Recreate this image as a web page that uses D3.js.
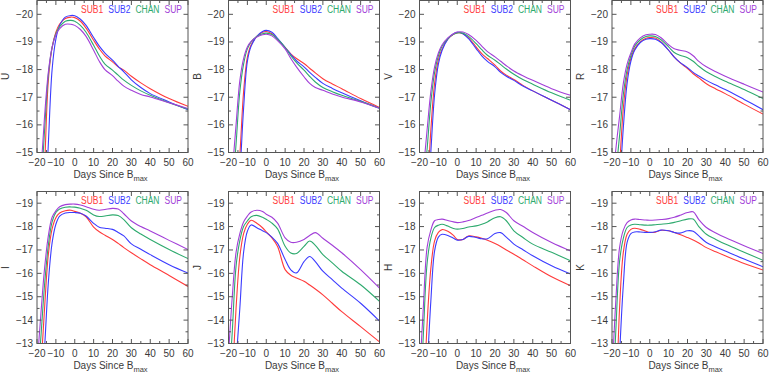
<!DOCTYPE html>
<head>
  <meta charset="utf-8">
  <title>Light curves</title>
  <script src="https://d3js.org/d3.v7.min.js"></script>
  <style>
    body { margin: 0; background: #fff; }
    text { font-family: "Liberation Sans", sans-serif; font-size: 10px; fill: #3a3a3a; }
  </style>
</head>

<body>
  <script type="text/javascript">
    var WIDTH = 769;
    var HEIGHT = 372;

    //===========data (days since B max, absolute magnitudes)
    var days = [-20,-18,-16,-14,-12,-10,-8,-5,-2,0,3,6,10,13,16,20,23,26,30,35,40,50,60];
    var models = ["SUB1", "SUB2", "CHAN", "SUP"];
    var colors = ["#ff3b3b", "#3b3bff", "#2eaa6e", "#a23fd8"];
    var xTickLabels = [-20,-10,0,10,20,30,40,50,60];

    var uSub1 = [-10,-12,-14.5,-17.6,-18.8,-19.35,-19.65,-19.85,-19.9,-19.88,-19.75,-19.5,-19.06,-18.75,-18.5,-18.28,-18.1,-17.98,-17.76,-17.52,-17.31,-16.95,-16.67];
    var uSub2 = [-9,-10.5,-12.5,-15.3,-18.0,-19.1,-19.6,-19.9,-19.96,-19.95,-19.82,-19.6,-19.16,-18.85,-18.6,-18.34,-18.12,-17.92,-17.63,-17.35,-17.13,-16.83,-16.55];
    var uChan = [-11,-13.5,-15.8,-17.8,-18.8,-19.3,-19.55,-19.75,-19.78,-19.75,-19.6,-19.35,-18.88,-18.5,-18.2,-17.98,-17.8,-17.62,-17.43,-17.23,-17.07,-16.8,-16.57];
    var uSup  = [-12,-14.2,-16.3,-17.9,-18.8,-19.25,-19.48,-19.64,-19.64,-19.6,-19.45,-19.2,-18.7,-18.3,-18.0,-17.78,-17.58,-17.4,-17.25,-17.1,-17.01,-16.8,-16.59];

    var bSub1 = [-10,-11.5,-13.2,-14.9,-17.2,-18.45,-18.9,-19.2,-19.35,-19.38,-19.3,-19.1,-18.8,-18.57,-18.4,-18.22,-18.05,-17.88,-17.67,-17.48,-17.31,-16.95,-16.63];
    var bSub2 = [-9.5,-11,-12.5,-14.2,-16.6,-18.3,-18.85,-19.2,-19.38,-19.42,-19.35,-19.13,-18.8,-18.55,-18.32,-18.1,-17.9,-17.72,-17.5,-17.32,-17.16,-16.87,-16.6];
    var bChan = [-11.5,-13.5,-15.3,-17.2,-18.2,-18.75,-19.0,-19.2,-19.3,-19.32,-19.27,-19.1,-18.8,-18.5,-18.25,-17.98,-17.75,-17.55,-17.35,-17.2,-17.07,-16.85,-16.6];
    var bSup  = [-12.5,-14.3,-16.0,-17.6,-18.4,-18.82,-19.02,-19.18,-19.26,-19.28,-19.22,-19.05,-18.75,-18.4,-18.1,-17.74,-17.5,-17.35,-17.25,-17.12,-17.01,-16.83,-16.6];

    var vSub1 = [-10,-11.5,-13.3,-15.8,-17.5,-18.35,-18.75,-19.1,-19.28,-19.33,-19.3,-19.15,-18.82,-18.58,-18.4,-18.16,-17.95,-17.8,-17.64,-17.42,-17.23,-16.89,-16.55];
    var vSub2 = [-9.5,-11,-12.6,-15.0,-17.1,-18.2,-18.7,-19.1,-19.3,-19.35,-19.3,-19.12,-18.76,-18.5,-18.3,-18.1,-17.9,-17.76,-17.61,-17.4,-17.23,-16.89,-16.55];
    var vChan = [-11.8,-13.7,-15.1,-16.8,-17.9,-18.5,-18.85,-19.12,-19.28,-19.33,-19.32,-19.2,-18.94,-18.72,-18.52,-18.34,-18.18,-18.02,-17.83,-17.63,-17.47,-17.16,-16.89];
    var vSup  = [-12.5,-14.3,-15.8,-17.2,-18.1,-18.6,-18.9,-19.15,-19.3,-19.36,-19.36,-19.27,-19.06,-18.85,-18.65,-18.46,-18.3,-18.14,-17.95,-17.77,-17.61,-17.31,-17.07];

    var rSub1 = [-11,-12.5,-14.5,-16.6,-17.8,-18.4,-18.75,-19.0,-19.13,-19.16,-19.14,-19.0,-18.7,-18.45,-18.25,-18.04,-17.85,-17.7,-17.49,-17.3,-17.13,-16.75,-16.39];
    var rSub2 = [-10,-11.8,-13.7,-15.9,-17.5,-18.3,-18.7,-18.98,-19.1,-19.12,-19.1,-18.98,-18.7,-18.45,-18.26,-18.07,-17.9,-17.77,-17.61,-17.44,-17.28,-16.92,-16.55];
    var rChan = [-12.5,-14.2,-15.6,-17.1,-18.0,-18.5,-18.85,-19.08,-19.2,-19.22,-19.2,-19.08,-18.82,-18.62,-18.52,-18.43,-18.3,-18.12,-17.92,-17.74,-17.58,-17.28,-16.95];
    var rSup  = [-13.5,-15.1,-16.3,-17.5,-18.2,-18.6,-18.92,-19.15,-19.26,-19.28,-19.27,-19.15,-18.9,-18.75,-18.7,-18.64,-18.5,-18.3,-18.1,-17.92,-17.76,-17.47,-17.19];

    var iSub1 = [-9,-11.8,-14.5,-16.8,-17.9,-18.38,-18.58,-18.68,-18.7,-18.65,-18.57,-18.42,-17.98,-17.78,-17.63,-17.45,-17.28,-17.1,-16.88,-16.62,-16.37,-15.91,-15.44];
    var iSub2 = [-8,-10.5,-12.8,-15.6,-17.3,-18.1,-18.45,-18.58,-18.6,-18.6,-18.57,-18.45,-18.14,-17.97,-17.93,-17.88,-17.75,-17.6,-17.26,-17.03,-16.8,-16.37,-16.01];
    var iChan = [-11,-13.2,-15.5,-17.2,-18.2,-18.6,-18.75,-18.83,-18.84,-18.83,-18.78,-18.7,-18.5,-18.43,-18.45,-18.5,-18.47,-18.3,-17.95,-17.68,-17.45,-17.02,-16.63];
    var iSup  = [-12,-14.2,-16.2,-17.6,-18.4,-18.67,-18.85,-18.94,-18.96,-18.96,-18.92,-18.85,-18.74,-18.7,-18.73,-18.78,-18.75,-18.55,-18.24,-18.0,-17.81,-17.41,-17.02];

    var jSub1 = [-9,-11.5,-14.5,-16.7,-17.7,-18.1,-18.27,-18.14,-17.95,-17.77,-17.52,-17.15,-16.16,-15.92,-15.8,-15.66,-15.5,-15.33,-15.08,-14.72,-14.36,-13.72,-13.07];
    var jSub2 = [-8,-10,-12.2,-14.5,-16.9,-17.8,-18.07,-17.95,-17.82,-17.74,-17.55,-17.28,-16.59,-16.15,-16.02,-16.5,-16.72,-16.5,-16.09,-15.73,-15.37,-14.72,-13.96];
    var jChan = [-11,-13.5,-16.3,-17.4,-18.0,-18.24,-18.42,-18.48,-18.4,-18.31,-18.15,-17.9,-17.16,-16.87,-16.85,-17.15,-17.38,-17.2,-16.8,-16.45,-16.09,-15.51,-14.8];
    var jSup  = [-12.5,-15.0,-16.9,-17.7,-18.2,-18.45,-18.62,-18.7,-18.65,-18.53,-18.4,-18.15,-17.52,-17.33,-17.33,-17.45,-17.62,-17.74,-17.5,-17.2,-16.88,-16.16,-15.37];

    var hSub1 = [-7,-10,-13.8,-16.2,-17.39,-17.75,-17.87,-17.8,-17.62,-17.45,-17.45,-17.6,-17.56,-17.5,-17.42,-17.28,-17.15,-17.0,-16.82,-16.57,-16.32,-15.85,-15.47];
    var hSub2 = [-6,-9,-11.8,-14.8,-16.96,-17.55,-17.67,-17.62,-17.5,-17.42,-17.45,-17.58,-17.53,-17.48,-17.48,-17.7,-17.74,-17.55,-17.25,-17.0,-16.75,-16.32,-15.97];
    var hChan = [-10,-13.3,-16.4,-17.5,-17.96,-18.06,-18.1,-18.02,-17.92,-17.89,-17.92,-17.98,-18.03,-18.1,-18.2,-18.38,-18.42,-18.25,-17.82,-17.52,-17.25,-16.9,-16.54];
    var hSup  = [-11.5,-14.5,-17.1,-17.85,-18.25,-18.3,-18.32,-18.26,-18.2,-18.17,-18.2,-18.26,-18.39,-18.48,-18.58,-18.7,-18.73,-18.6,-18.25,-18.0,-17.75,-17.32,-16.96];

    var kSub1 = [-7,-10,-14.5,-16.9,-17.67,-17.88,-17.93,-17.88,-17.8,-17.75,-17.76,-17.84,-17.82,-17.75,-17.66,-17.53,-17.43,-17.3,-17.1,-16.92,-16.75,-16.42,-16.14];
    var kSub2 = [-6,-9,-12.5,-15.5,-17.32,-17.7,-17.77,-17.77,-17.75,-17.75,-17.78,-17.85,-17.82,-17.75,-17.72,-17.82,-17.8,-17.6,-17.32,-17.13,-16.96,-16.61,-16.28];
    var kChan = [-10,-13.5,-16.5,-17.5,-17.96,-18.07,-18.1,-18.08,-18.06,-18.06,-18.08,-18.1,-18.13,-18.18,-18.24,-18.32,-18.32,-18.0,-17.67,-17.45,-17.25,-16.9,-16.56];
    var kSup  = [-11.5,-14.8,-17.1,-17.85,-18.17,-18.28,-18.32,-18.3,-18.28,-18.27,-18.28,-18.3,-18.34,-18.4,-18.48,-18.6,-18.63,-18.3,-17.96,-17.73,-17.53,-17.18,-16.85];

    var panels = [
      {band: "U", series: [uSub1, uSub2, uChan, uSup], dom: [-15, -20.5]},
      {band: "B", series: [bSub1, bSub2, bChan, bSup], dom: [-15, -20.5]},
      {band: "V", series: [vSub1, vSub2, vChan, vSup], dom: [-15, -20.5]},
      {band: "R", series: [rSub1, rSub2, rChan, rSup], dom: [-15, -20.5]},
      {band: "I", series: [iSub1, iSub2, iChan, iSup], dom: [-13, -19.5]},
      {band: "J", series: [jSub1, jSub2, jChan, jSup], dom: [-13, -19.5]},
      {band: "H", series: [hSub1, hSub2, hChan, hSup], dom: [-13, -19.5]},
      {band: "K", series: [kSub1, kSub2, kChan, kSup], dom: [-13, -19.5]}
    ];

    //============layout
    var PW = 151, PH = 152;
    var lefts = [37, 228.5, 419.5, 612];
    var tops = [0.5, 191.5];

    var svg = d3.select("body").append("svg")
                .attr("width", WIDTH)
                .attr("height", HEIGHT);

    var fmt = function(d){ return d < 0 ? "\u2212" + Math.abs(d) : "" + d; };

    panels.forEach(function(p, k){
      var col = k % 4, row = Math.floor(k / 4);
      var g = svg.append("g").attr("transform", "translate(" + lefts[col] + "," + tops[row] + ")");

      var x = d3.scaleLinear().domain([-20, 60]).range([0, PW]);
      var y = d3.scaleLinear().domain(p.dom).range([PH, 0]);

      g.append("clipPath").attr("id", "clip" + k)
        .append("rect").attr("width", PW).attr("height", PH);

      var line = d3.line()
                   .x(function(d, i){ return x(days[i]); })
                   .y(function(d){ return y(d); })
                   .curve(d3.curveCatmullRom.alpha(0.5));

      g.append("g").attr("clip-path", "url(#clip" + k + ")")
        .selectAll("path")
        .data(p.series)
        .enter().append("path")
        .attr("d", line)
        .attr("fill", "none")
        .attr("stroke-width", 1.1)
        .attr("stroke", function(d, i){ return colors[i]; });

      // frame
      g.append("rect").attr("width", PW).attr("height", PH)
        .attr("fill", "none").attr("stroke", "#555").attr("stroke-width", 1);

      // ticks on all four sides
      var yMaj = d3.range(Math.ceil(p.dom[1]), p.dom[0] + 0.01, 1);
      var yMin = d3.range(p.dom[1], p.dom[0] + 0.01, 0.5);
      var xMin = d3.range(-20, 61, 5);
      var ticks = g.append("g").attr("stroke", "#555").attr("stroke-width", 1);
      yMin.forEach(function(v){
        var len = (v % 1 === 0) ? 4.5 : 2.5;
        ticks.append("line").attr("x1", 0).attr("x2", len).attr("y1", y(v)).attr("y2", y(v));
        ticks.append("line").attr("x1", PW).attr("x2", PW - len).attr("y1", y(v)).attr("y2", y(v));
      });
      xMin.forEach(function(v){
        var len = (v % 10 === 0) ? 4.5 : 2.5;
        ticks.append("line").attr("x1", x(v)).attr("x2", x(v)).attr("y1", PH).attr("y2", PH - len);
        ticks.append("line").attr("x1", x(v)).attr("x2", x(v)).attr("y1", 0).attr("y2", len);
      });

      // tick labels
      g.selectAll(".ylab").data(yMaj).enter().append("text")
        .attr("x", -4).attr("y", function(d){ return y(d) + 3.5; })
        .attr("text-anchor", "end")
        .text(fmt);
      g.selectAll(".xlab").data(xTickLabels).enter().append("text")
        .attr("x", function(d){ return x(d); }).attr("y", PH + 13)
        .attr("text-anchor", "middle")
        .text(fmt);

      // axis titles
      var xt = g.append("text").attr("x", PW / 2 - 2).attr("y", PH + 25)
                .attr("text-anchor", "middle");
      xt.append("tspan").text("Days Since B");
      xt.append("tspan").attr("dy", 3).attr("font-size", "7.5px").text("max");

      g.append("text")
        .attr("transform", "translate(-28," + (PH / 2) + ") rotate(-90)")
        .attr("text-anchor", "middle")
        .text(p.band);

      // legend, laid out right to left with slightly narrowed glyphs
      var xr = PW - 6;
      for (var i = models.length - 1; i >= 0; i--) {
        var t = g.append("text").attr("x", xr).attr("y", 12)
                 .attr("text-anchor", "end")
                 .style("fill", colors[i])
                 .text(models[i]);
        var w = t.node().getComputedTextLength() * 0.85;
        t.attr("textLength", w).attr("lengthAdjust", "spacingAndGlyphs");
        xr -= w + 5;
      }
    });
  </script>
</body>
